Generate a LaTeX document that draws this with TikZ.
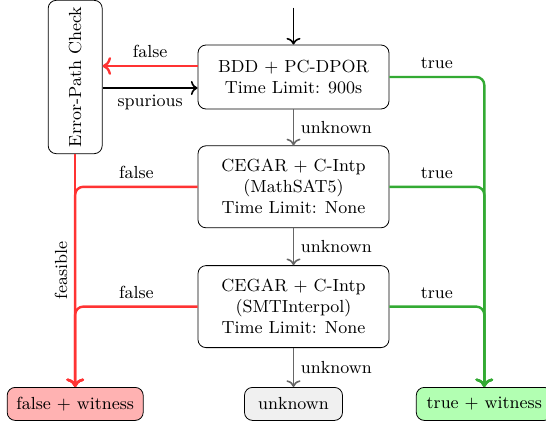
\documentclass[tikz,border=0pt]{standalone}
\usepackage{xcolor}
\usepackage{tikz}
\usetikzlibrary{arrows.meta, positioning}

\definecolor{falsered}{RGB}{255,51,51}
\definecolor{truegreen}{RGB}{51,170,51}

\begin{document}
\begin{tikzpicture}[
  every node/.style={font=\fontsize{8.75pt}{10.5pt}\selectfont},
  block/.style={rectangle, draw, rounded corners, minimum width=95.5pt, align=center},
  result/.style={rectangle, draw, rounded corners, minimum height=16.5pt},
  falseline/.style={->, very thick, falsered, rounded corners},
  trueline/.style={->, very thick, truegreen, rounded corners},
  unkline/.style={->, thick, black!60},
  lbl/.style={text=black}
]
\useasboundingbox (-146.75pt,38.5pt) rectangle (126.25pt,-173.5pt);

\node[block, minimum height=32pt] (bdd) {BDD + PC-DPOR\\Time Limit: 900s};
\node[block, minimum height=41pt, below=18pt of bdd] (cegar1) {CEGAR + C-Intp\\(MathSAT5)\\Time Limit: None};
\node[block, minimum height=41pt, below=18.5pt of cegar1] (cegar2) {CEGAR + C-Intp\\(SMTInterpol)\\Time Limit: None};
\node[rectangle, draw, rounded corners, minimum width=27pt, minimum height=74.5pt, left=47.5pt of bdd] (epc) {\rotatebox{90}{Error-Path Check}};
\node[result, fill=black!6, minimum width=49pt, below=19.5pt of cegar2] (unk) {unknown};
\node[result, fill=red!30, minimum width=68pt] (fw) at (epc |- unk) {false + witness};
\node[result, fill=green!30, minimum width=68pt, right=36.5pt of unk] (tw) {true + witness};
\coordinate[above=18.5pt of bdd] (start);

\draw[->, thick] (start) -- (bdd);
\draw[falseline] ([yshift=5.5pt]bdd.west) -- node[lbl, above] {false} ([yshift=5.5pt]epc.east);
\draw[->, thick] ([yshift=-5.5pt]epc.east) -- node[lbl, below] {spurious} ([yshift=-5.5pt]bdd.west);
\draw[falseline] (epc) -- node[lbl, rotate=90, anchor=south] {feasible} (fw);
\draw[falseline] (cegar1) -| node[lbl, above, pos=0.25] {false} (fw);
\draw[falseline] (cegar2) -| node[lbl, above, pos=0.25] {false} (fw);

\draw[trueline] (bdd) -| node[lbl, above, pos=0.25] {true} (tw);
\draw[trueline] (cegar1) -| node[lbl, above, pos=0.25] {true} (tw);
\draw[trueline] (cegar2) -| node[lbl, above, pos=0.25] {true} (tw);

\draw[unkline] (bdd) -- node[lbl, right] {unknown} (cegar1);
\draw[unkline] (cegar1) -- node[lbl, right] {unknown} (cegar2);
\draw[unkline] (cegar2) -- node[lbl, right] {unknown} (unk);
\end{tikzpicture}
\end{document}
